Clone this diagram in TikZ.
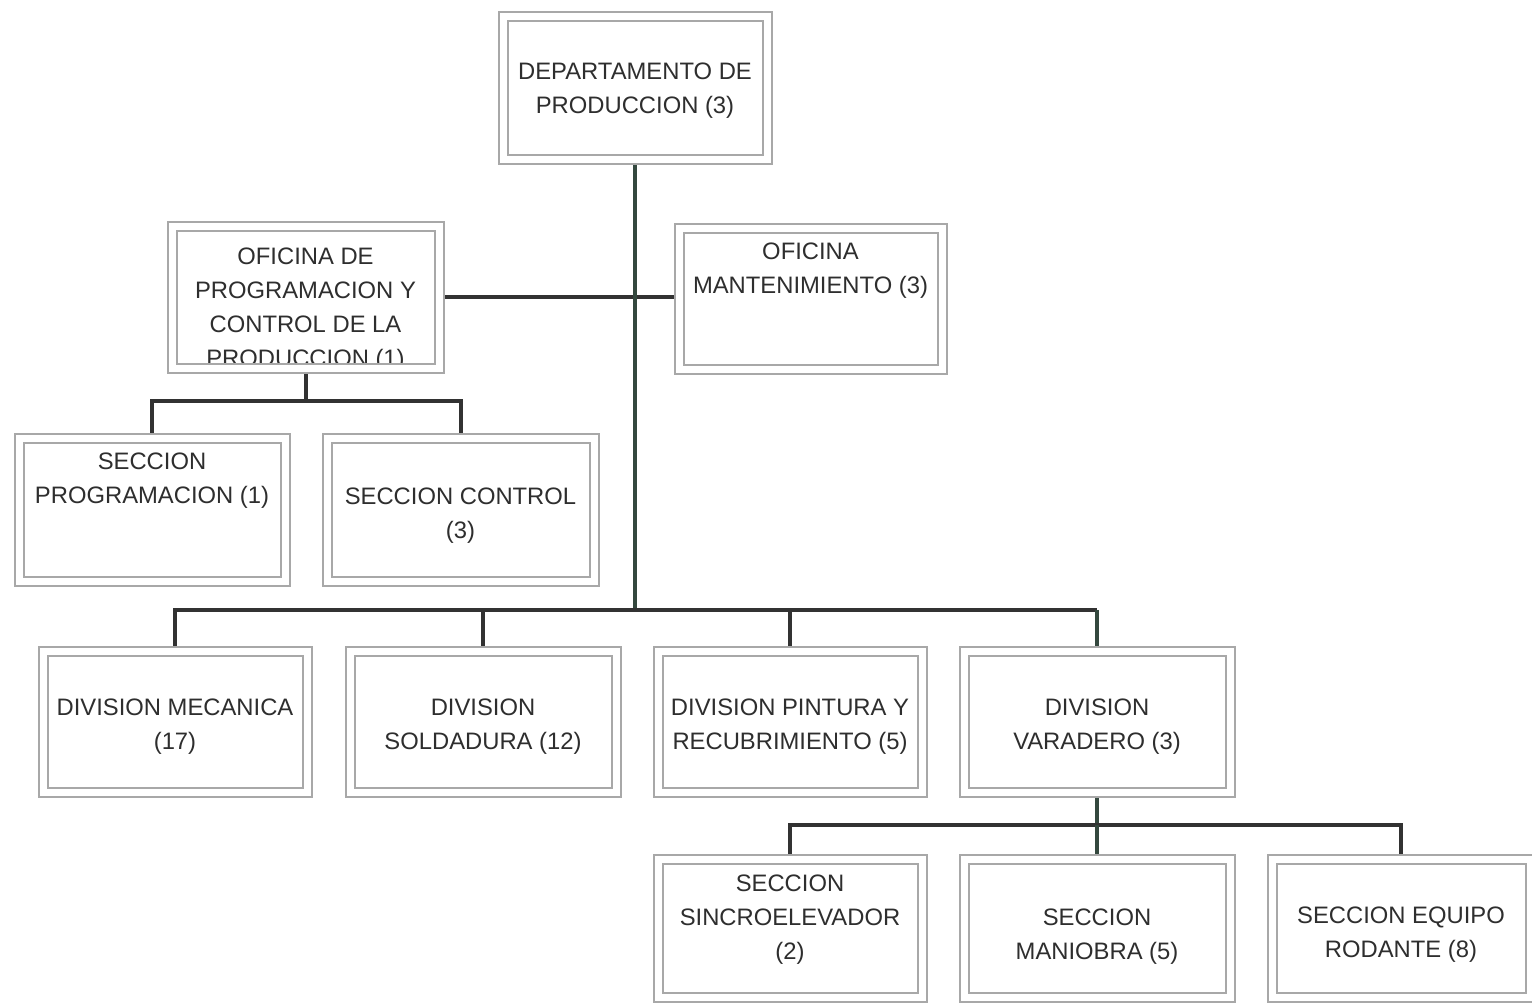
\documentclass[tikz,border=0pt]{standalone}
\usepackage{fontspec}
\setmainfont{Liberation Sans}
\usetikzlibrary{backgrounds}

\definecolor{framegray}{HTML}{A8A8A8}
\definecolor{inkgray}{HTML}{2E2E2E}
\definecolor{linegray}{HTML}{323232}
\definecolor{trunkgreen}{HTML}{34483E}

\tikzset{
  frame/.style={rectangle, draw=framegray, line width=2pt,
    double=white, double distance=7pt, inner sep=0pt},
  boxtext/.style={align=center, inner sep=0pt, text=inkgray,
    font=\fontsize{23.8}{34}\selectfont},
  conn/.style={draw=linegray, line width=4pt},
  trunk/.style={draw=trunkgreen, line width=4pt}
}

% name, centre x, centre y, width, height, text centre y, text
\newcommand{\orgunit}[7]{%
  \node[boxtext] (#1-t) at (#2,#6) {#7};
  \node[frame, minimum width=#4pt, minimum height=#5pt] (#1) at (#2,#3) {};
}

\begin{document}
\begin{tikzpicture}[x=1pt, y=-1pt]
  \useasboundingbox (0,0) rectangle (1532,1005);

  \orgunit{dep}{635}{87.5}{264}{143}{91}{DEPARTAMENTO DE\\PRODUCCION (3)}
  \orgunit{opc}{305.5}{297}{267}{142}{310}{OFICINA DE\\PROGRAMACION Y\\CONTROL DE LA\\PRODUCCION (1)}
  \orgunit{ofm}{810.5}{298.5}{263}{141}{271}{OFICINA\\MANTENIMIENTO (3)}
  \orgunit{sp}{152}{509.5}{266}{143}{481}{SECCION\\PROGRAMACION (1)}
  \orgunit{sc}{460.5}{509.5}{267}{143}{516}{SECCION CONTROL\\(3)}
  \orgunit{dm}{175}{721.5}{264}{141}{727}{DIVISION MECANICA\\(17)}
  \orgunit{ds}{483}{721.5}{266}{141}{727}{DIVISION\\SOLDADURA (12)}
  \orgunit{dp}{790}{721.5}{264}{141}{727}{DIVISION PINTURA Y\\RECUBRIMIENTO (5)}
  \orgunit{dv}{1097}{721.5}{266}{141}{727}{DIVISION\\VARADERO (3)}
  \orgunit{ss}{790}{928}{264}{138}{920}{SECCION\\SINCROELEVADOR\\(2)}
  \orgunit{sm}{1097}{928}{266}{138}{937}{SECCION\\MANIOBRA (5)}
  \orgunit{sr}{1401}{928}{258}{138}{935}{SECCION EQUIPO\\RODANTE (8)}

  \coordinate (bus) at (635,610);
  \coordinate (opcbus) at (305.5,401);
  \coordinate (dvbus) at (1097,825);

  \begin{scope}[on background layer]
    \fill[white] (0,0) rectangle (1532,1005);
    % main trunk and staff offices
    \draw[conn] (opc.east) -- (opc.east -| ofm.west);
    \draw[trunk] (dep.south) -- (bus);
    % divisions
    \draw[conn] (dm.north) |- (bus) -- (bus -| dv.north);
    \draw[conn] (ds.north) -- (ds.north |- bus);
    \draw[conn] (dp.north) -- (dp.north |- bus);
    \draw[trunk] (bus -| dv.north) -- (dv.north);
    % sections of the planning office
    \draw[conn] (opc.south) -- (opcbus);
    \draw[conn] (sp.north) |- (opcbus) -| (sc.north);
    % sections of the slipway division
    \draw[trunk] (dv.south) -- (dvbus);
    \draw[conn] (ss.north) |- (dvbus) -| (sr.north);
    \draw[trunk] (sm.north) -- (dvbus);
  \end{scope}
\end{tikzpicture}
\end{document}
